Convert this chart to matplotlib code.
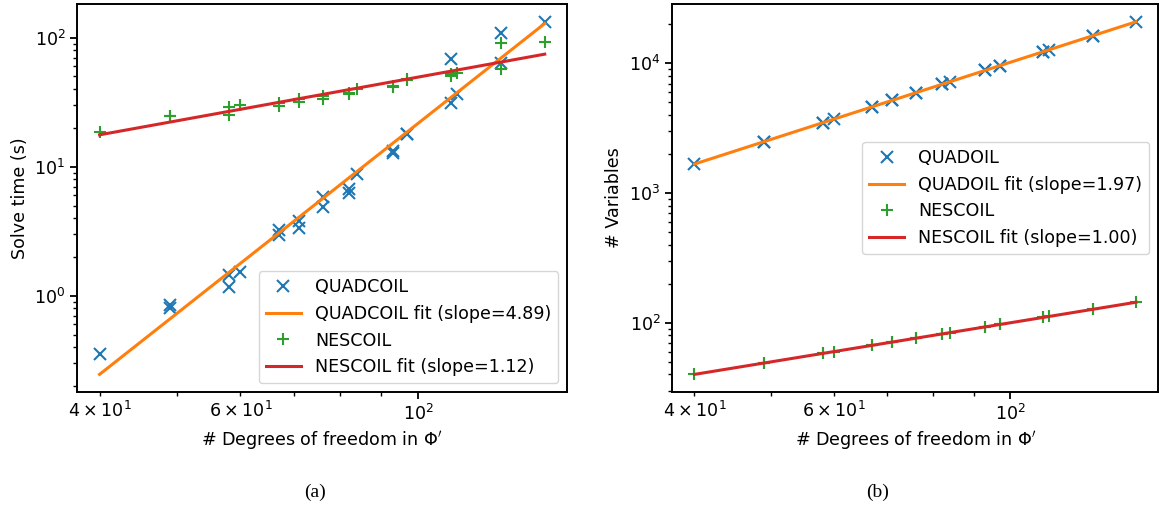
import numpy as np
import matplotlib
matplotlib.use('Agg')
import matplotlib.pyplot as plt

# degrees of freedom (mpol, ntor from 4 to 8)
dof = [40, 49, 49, 58, 58, 60, 67, 67, 71, 71, 76, 76, 82, 82, 84,
       93, 93, 97, 97, 110, 110, 112, 127, 127, 144]

# solve times (s)
quad_time = [0.353, 0.847, 0.80, 1.45, 1.16, 1.535, 3.23, 2.95, 3.8, 3.33,
             5.8, 4.9, 6.68, 6.29, 8.73, 12.8, 13.3, 17.9, 17.9, 68.4,
             31.3, 36.6, 108, 64, 133]
nes_time = [18.5, 24.8, 24.5, 28.9, 25.2, 30.3, 31.0, 29.5, 33.5, 31.9,
            35.5, 33.5, 37.1, 36.3, 39.8, 42.2, 41.5, 47.0, 47.5, 52.3,
            50.5, 53.0, 91.5, 57.2, 93.1]

# number of variables
quad_vars = [1690, 2500, 2500, 3480, 3480, 3720, 4620, 4620, 5180, 5180,
             5930, 5930, 6890, 6890, 7230, 8840, 8840, 9600, 9600, 12300,
             12300, 12800, 16400, 16400, 21000]
nes_vars = [40, 49, 49, 58, 58, 60, 67, 67, 71, 71, 76, 76, 82, 82, 84,
            93, 93, 97, 97, 110, 110, 112, 127, 127, 144]

slopes_a = ['4.89', '1.12']
slopes_b = ['1.97', '1.00']

plt.rcParams['font.family'] = 'DejaVu Sans'
plt.rcParams['font.size'] = 12.6
plt.rcParams['axes.linewidth'] = 1.4
plt.rcParams['xtick.major.width'] = 1.3
plt.rcParams['ytick.major.width'] = 1.3
plt.rcParams['xtick.minor.width'] = 1.0
plt.rcParams['ytick.minor.width'] = 1.0
plt.rcParams['xtick.major.size'] = 5
plt.rcParams['ytick.major.size'] = 5
plt.rcParams['xtick.minor.size'] = 3
plt.rcParams['ytick.minor.size'] = 3


def fitline(x, y):
    lx = np.log(np.array(x, dtype=float))
    ly = np.log(np.array(y, dtype=float))
    c = np.polyfit(lx, ly, 1)
    return np.exp(np.polyval(c, lx))


def panel(ax, y1, y2, name1, slopes, ylabel, loc):
    ax.plot(dof, y1, 'x', color='C0', ms=9, mew=1.5, label=name1)
    ax.plot(dof, fitline(dof, y1), color='C1', lw=2.2,
            label=name1 + ' fit (slope=' + slopes[0] + ')')
    ax.plot(dof, y2, '+', color='C2', ms=9, mew=1.5, label='NESCOIL')
    ax.plot(dof, fitline(dof, y2), color='C3', lw=2.2,
            label='NESCOIL fit (slope=' + slopes[1] + ')')
    ax.set_xscale('log')
    ax.set_yscale('log')
    ax.set_xlabel(r"# Degrees of freedom in $\Phi'$")
    ax.set_ylabel(ylabel)
    ax.legend(loc=loc, fontsize=12.6)


fig = plt.figure(figsize=(11.59, 5.08), dpi=100)
ax1 = fig.add_axes([0.0667, 0.2283, 0.4225, 0.7638])
ax2 = fig.add_axes([0.5801, 0.2283, 0.4191, 0.7638])

panel(ax1, quad_time, nes_time, 'QUADCOIL', slopes_a, 'Solve time (s)', 'lower right')
panel(ax2, quad_vars, nes_vars, 'QUADOIL', slopes_b, '# Variables', 'center right')

fig.text(0.272, 0.022, '(a)', family='Liberation Serif', fontsize=14, ha='center')
fig.text(0.757, 0.022, '(b)', family='Liberation Serif', fontsize=14, ha='center')

fig.savefig('out.png', dpi=100)
